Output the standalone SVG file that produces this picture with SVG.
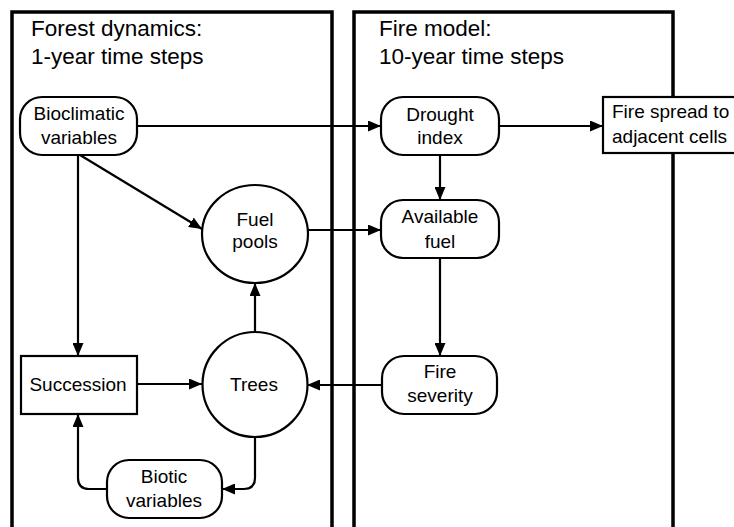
<svg xmlns="http://www.w3.org/2000/svg" width="734" height="527" viewBox="0 0 734 527">
<style>
.panel{fill:none;stroke:#000;stroke-width:3.5}
.node{fill:#fff;stroke:#000;stroke-width:2.2}
.title{font-family:"Liberation Sans",Arial,sans-serif;font-size:22.5px;fill:#000}
.lbl{font-family:"Liberation Sans",Arial,sans-serif;font-size:19px;fill:#000;text-anchor:middle}
.edge{fill:none;stroke:#000;stroke-width:2.2}
</style>
<defs>
<marker id="ah" markerUnits="userSpaceOnUse" markerWidth="13" markerHeight="11" refX="13" refY="5.5" orient="auto">
<path d="M0,0 L13,5.5 L0,11 Z" fill="#000"/>
</marker>
</defs>
<rect width="734" height="527" fill="#fff"/>
<g id="panel-forest">
<rect class="panel" x="12" y="12" width="320" height="540"/>
<text class="title" x="31" y="36">Forest dynamics:</text>
<text class="title" x="31" y="64">1-year time steps</text>
</g>
<g id="panel-fire">
<rect class="panel" x="354" y="12" width="319" height="540"/>
<text class="title" x="379" y="36">Fire model:</text>
<text class="title" x="379" y="64">10-year time steps</text>
</g>
<g id="connectors">
<path class="edge" d="M137,126 H381" marker-end="url(#ah)"/>
<path class="edge" d="M499,126 H603" marker-end="url(#ah)"/>
<path class="edge" d="M440,155 V200" marker-end="url(#ah)"/>
<path class="edge" d="M80,155 L202,229" marker-end="url(#ah)"/>
<path class="edge" d="M78,155 V356" marker-end="url(#ah)"/>
<path class="edge" d="M308,230 H381" marker-end="url(#ah)"/>
<path class="edge" d="M440,258 V356" marker-end="url(#ah)"/>
<path class="edge" d="M137,384 H202" marker-end="url(#ah)"/>
<path class="edge" d="M255,332 V283" marker-end="url(#ah)"/>
<path class="edge" d="M382,385 H307" marker-end="url(#ah)"/>
<path class="edge" d="M255,437 V478 Q255,489 244,489 H222" marker-end="url(#ah)"/>
<path class="edge" d="M107,489 H89 Q78,489 78,478 V414" marker-end="url(#ah)"/>
</g>
<g id="bioclimatic">
<rect class="node" x="20" y="97" width="117" height="58" rx="22"/>
<text class="lbl" x="79" y="120">Bioclimatic</text>
<text class="lbl" x="79" y="144">variables</text>
</g>
<g id="fuel-pools">
<ellipse class="node" cx="255" cy="234" rx="53" ry="49"/>
<text class="lbl" x="255" y="226">Fuel</text>
<text class="lbl" x="255" y="248">pools</text>
</g>
<g id="succession">
<rect class="node" x="21" y="356" width="116" height="58"/>
<text class="lbl" x="78" y="391">Succession</text>
</g>
<g id="trees">
<circle class="node" cx="255" cy="384.5" r="52.5"/>
<text class="lbl" x="254" y="391">Trees</text>
</g>
<g id="biotic">
<rect class="node" x="107" y="460" width="115" height="58" rx="22"/>
<text class="lbl" x="164" y="483">Biotic</text>
<text class="lbl" x="164" y="507">variables</text>
</g>
<g id="drought">
<rect class="node" x="381" y="97" width="118" height="58" rx="22"/>
<text class="lbl" x="440" y="121">Drought</text>
<text class="lbl" x="440" y="144">index</text>
</g>
<g id="available-fuel">
<rect class="node" x="381" y="200" width="118" height="58" rx="22"/>
<text class="lbl" x="440" y="223">Available</text>
<text class="lbl" x="440" y="248">fuel</text>
</g>
<g id="fire-severity">
<rect class="node" x="382" y="356" width="115" height="58" rx="22"/>
<text class="lbl" x="440" y="378">Fire</text>
<text class="lbl" x="440" y="402">severity</text>
</g>
<g id="fire-spread">
<rect class="node" x="603" y="97" width="140" height="56"/>
<text class="lbl" x="612" y="118" style="text-anchor:start">Fire spread to</text>
<text class="lbl" x="612" y="143" style="text-anchor:start">adjacent cells</text>
</g>
</svg>
